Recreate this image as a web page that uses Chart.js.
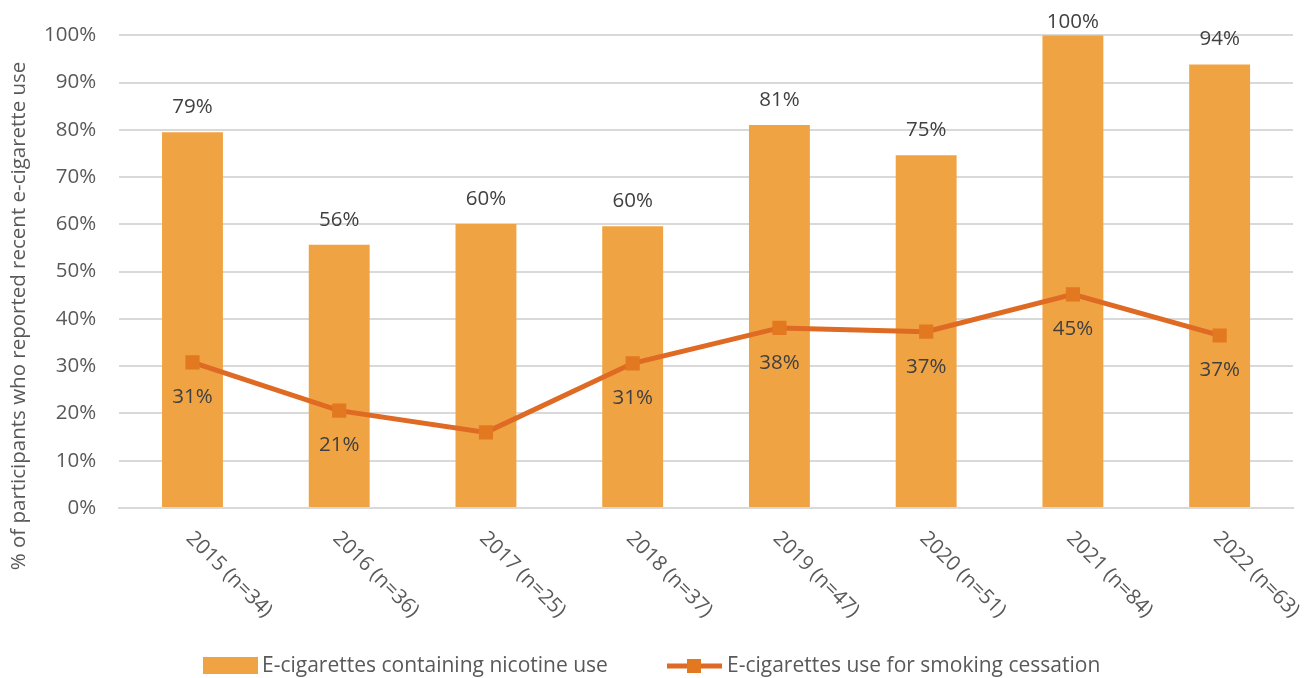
<!DOCTYPE html>
<html><head><meta charset="utf-8">
<script src="https://cdn.jsdelivr.net/npm/chart.js@4.4.1/dist/chart.umd.min.js"></script>
<style>html,body{margin:0;padding:0;background:#fff}#wrap{width:1314px;height:678px}</style>
</head><body><div id="wrap"><canvas id="c" width="1314" height="678"></canvas></div>
<script>
const categories = ['2015 (n=34)','2016 (n=36)','2017 (n=25)','2018 (n=37)','2019 (n=47)','2020 (n=51)','2021 (n=84)','2022 (n=63)'];
const nicotineValues = [79.5, 55.7, 60.1, 59.6, 81.0, 74.6, 100, 93.8];
const nicotineLabels = ['79%','56%','60%','60%','81%','75%','100%','94%'];
const cessationValues = [30.8, 20.6, 16.0, 30.6, 38.1, 37.3, 45.2, 36.5];
const cessationLabels = ['31%','21%',null,'31%','38%','37%','45%','37%'];
const yTickValues = [0,10,20,30,40,50,60,70,80,90,100];
const seriesNames = ['E-cigarettes containing nicotine use','E-cigarettes use for smoking cessation'];
const yTitle = '% of participants who reported recent e-cigarette use';

const FONT = '"Open Sans", sans-serif';
const BAR = '#F0A342', LINE = '#DE6A24', MARK = '#E27820';

const custom = {
  id:'custom',
  afterDatasetsDraw(chart){
    const ctx = chart.ctx, x = chart.scales.x;
    ctx.save();
    ctx.font = '20.5px ' + FONT;
    ctx.fillStyle = '#404040';
    ctx.textAlign = 'center'; ctx.textBaseline = 'middle';
    const mLine = chart.getDatasetMeta(0), mBar = chart.getDatasetMeta(1);
    mBar.data.forEach((b,i)=>{ const ty = Math.max(b.y - 25, 22); ctx.fillText(nicotineLabels[i], b.x, ty); });
    mLine.data.forEach((p,i)=>{ if(cessationLabels[i]) ctx.fillText(cessationLabels[i], p.x, p.y + 35); });
    // x labels rotated
    ctx.fillStyle = '#595959';
    ctx.textAlign = 'left';
    categories.forEach((c,i)=>{
      const px = x.getPixelForValue(i);
      ctx.save(); ctx.translate(px - 3, 535); ctx.rotate(Math.PI/4); ctx.fillText(c, 0, 0); ctx.restore();
    });
    // y title
    ctx.save(); ctx.translate(19, 316); ctx.rotate(-Math.PI/2); ctx.textAlign='center'; ctx.fillText(yTitle,0,0); ctx.restore();
    // legend
    ctx.font = '21px ' + FONT;
    ctx.fillStyle = BAR; ctx.fillRect(203, 657, 55, 17);
    ctx.fillStyle = '#595959'; ctx.textAlign='left';
    ctx.fillText(seriesNames[0], 262, 666);
    ctx.strokeStyle = LINE; ctx.lineWidth = 5; ctx.beginPath(); ctx.moveTo(667,666); ctx.lineTo(722,666); ctx.stroke();
    ctx.fillStyle = MARK; ctx.fillRect(687, 659, 14, 14);
    ctx.fillStyle = '#595959';
    ctx.fillText(seriesNames[1], 727, 666);
    ctx.restore();
  }
};

new Chart(document.getElementById('c'), {
  data:{
    labels: categories,
    datasets:[
      {type:'line', label:seriesNames[1], data:cessationValues, borderColor:LINE, borderWidth:5,
       pointStyle:'rect', pointRadius:10, pointBackgroundColor:MARK, pointBorderWidth:0, pointBorderColor:MARK, tension:0, order:0},
      {type:'bar', label:seriesNames[0], data:nicotineValues, backgroundColor:BAR, barPercentage:1, categoryPercentage:0.415, order:1}
    ]
  },
  options:{
    responsive:false, animation:false,
    layout:{padding:{left:21, right:21, top:34, bottom:162}},
    plugins:{legend:{display:false}, tooltip:{enabled:false}},
    scales:{
      x:{grid:{display:false}, border:{display:true,color:'#D9D9D9',width:2}, ticks:{display:false}},
      y:{min:0,max:100, afterBuildTicks(s){ s.ticks = yTickValues.map(v=>({value:v})); },
         grid:{color:'#D9D9D9', lineWidth:2, drawTicks:false}, border:{display:false},
         ticks:{padding:23, color:'#595959', font:{family:FONT,size:20.5}, callback:v=>v+'%'}}
    }
  },
  plugins:[custom]
});
</script></body></html>
